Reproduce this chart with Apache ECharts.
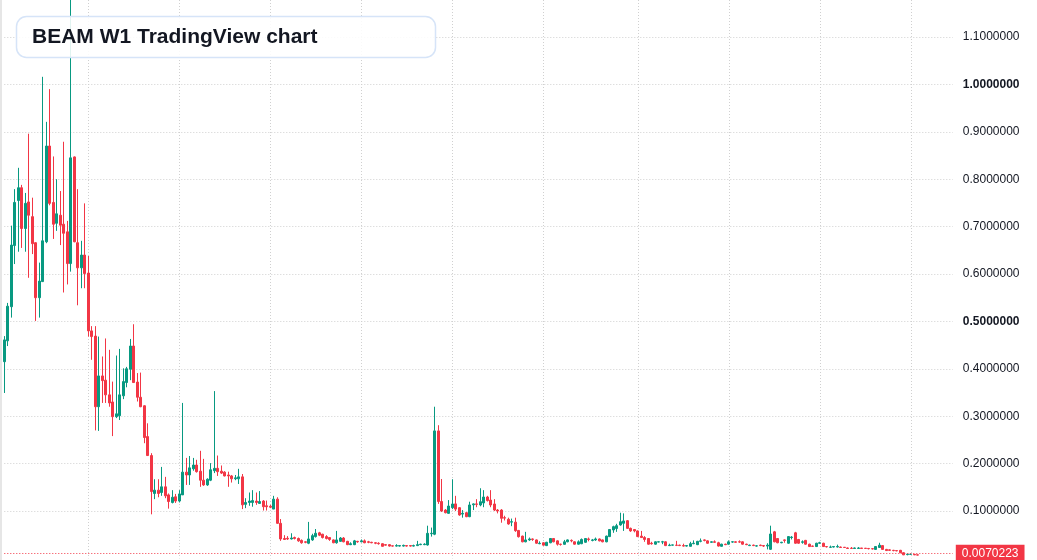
<!DOCTYPE html>
<html>
<head>
<meta charset="utf-8">
<script src="https://cdn.jsdelivr.net/npm/echarts@6/dist/echarts.min.js"></script>
<style>
html,body{margin:0;padding:0;background:#fff;}
#chart{width:1037px;height:560px;}
</style>
</head>
<body>
<div id="chart"></div>
<script>
// ---- data (weekly BEAM candles) ----
const firstWeek = '2019-01-14';
const weekCount = 272; // includes empty future weeks on the right
const categories = [];
(function () {
  const d = new Date(firstWeek + 'T00:00:00Z');
  for (let i = 0; i < weekCount; i++) {
    categories.push(d.toISOString().slice(0, 10));
    d.setUTCDate(d.getUTCDate() + 7);
  }
})();

const openPrices = [
.415,.459,.531,.660,.755,.782,.696,.752,.721,.666,
.550,.584,.668,.870,.751,.707,.724,.705,.689,.622,
.847,.666,.613,.640,.602,.480,.469,.320,.385,.376,
.345,.330,.299,.301,.343,.371,.399,.448,.372,.340,
.322,.257,.217,.137,.144,.139,.151,.134,.118,.130,
.121,.134,.182,.176,.189,.197,.184,.165,.155,.165,
.185,.190,.184,.182,.176,.174,.168,.168,.172,.114,
.118,.118,.121,.116,.121,.111,.110,.104,.125,.074,
.042,.0424,.041,.044,.042,.038,.035,.032,.039,.046,
.054,.051,.046,.044,.039,.033,.036,.043,.036,.029,
.029,.036,.035,.037,.035,.034,.033,.032,.031,.029,
.029,.0265,.026,.026,.026,.027,.027,.026,.027,.029,
.029,.0283,.052,.051,.269,.120,.102,.095,.107,.115,
.107,.0935,.0964,.088,.113,.115,.1127,.117,.1295,.123,
.1148,.102,.102,.0859,.0825,.0765,.0765,.059,.047,.035,
.039,.041,.039,.031,.033,.027,.033,.042,.037,.030,
.0297,.035,.038,.035,.030,.031,.034,.041,.038,.039,
.041,.039,.035,.046,.060,.063,.0705,.074,.0795,.0634,
.061,.058,.047,.044,.042,.032,.030,.0345,.0345,.035,
.027,.028,.028,.028,.027,.026,.0255,.031,.029,.036,
.039,.037,.034,.035,.033,.0255,.030,.030,.0345,.035,
.035,.035,.030,.027,.028,.026,.028,.027,.026,.0192,
.056,.042,.033,.039,.032,.044,.054,.040,.034,.038,
.030,.026,.025,.032,.032,.025,.0235,.024,.024,.024,
.0235,.022,.0215,.021,.021,.022,.0215,.021,.0205,.019,
.023,.027,.019,.018,.017,.0165,.017,.012,.008,.0085,
.0085,.0075
];
const closePrices = [
.461,.532,.661,.751,.782,.696,.749,.724,.664,.550,
.585,.670,.870,.749,.705,.727,.703,.686,.622,.845,
.668,.613,.640,.601,.480,.468,.320,.385,.375,.345,
.328,.299,.305,.345,.373,.400,.448,.371,.340,.320,
.255,.217,.141,.144,.137,.151,.132,.120,.129,.121,
.136,.182,.176,.191,.197,.183,.165,.155,.167,.187,
.190,.183,.180,.174,.174,.168,.170,.172,.113,.118,
.121,.122,.118,.120,.109,.109,.108,.125,.074,.041,
.040,.041,.043,.042,.037,.033,.034,.041,.048,.053,
.049,.044,.042,.040,.033,.039,.043,.035,.029,.031,
.037,.035,.037,.033,.034,.033,.032,.031,.0255,.028,
.026,.026,.027,.027,.0275,.026,.026,.027,.029,.030,
.030,.0529,.053,.269,.120,.100,.0964,.1105,.1148,.104,
.0916,.0951,.088,.1127,.115,.114,.1196,.1295,.122,.1127,
.102,.100,.0846,.085,.0726,.0775,.0585,.0458,.035,.039,
.041,.040,.032,.032,.028,.034,.042,.035,.030,.0295,
.035,.039,.037,.030,.035,.040,.042,.040,.039,.041,
.037,.035,.047,.061,.067,.069,.0774,.079,.0634,.058,
.058,.046,.044,.040,.030,.031,.035,.035,.035,.027,
.028,.0285,.0275,.027,.026,.027,.031,.032,.036,.037,
.038,.032,.035,.034,.026,.030,.029,.035,.035,.034,
.0345,.030,.029,.028,.027,.0265,.027,.026,.028,.0515,
.035,.033,.034,.038,.046,.045,.032,.032,.035,.030,
.025,.0255,.032,.033,.025,.0245,.024,.025,.025,.023,
.023,.021,.021,.022,.022,.021,.021,.0205,.020,.025,
.028,.019,.0165,.017,.0165,.016,.012,.0075,.009,.009,
.0075,.0070223
];
const lowPrices = [
.349,.448,.508,.621,.647,.655,.647,.592,.642,.501,
.508,.583,.665,.745,.674,.691,.661,.561,.578,.605,
.667,.534,.570,.570,.468,.419,.270,.269,.328,.328,
.320,.258,.296,.292,.336,.361,.376,.370,.331,.319,
.243,.216,.093,.125,.129,.132,.127,.105,.116,.117,
.118,.134,.155,.155,.185,.181,.151,.153,.153,.163,
.180,.174,.178,.173,.151,.160,.165,.157,.104,.106,
.111,.109,.113,.115,.101,.101,.106,.104,.073,.037,
.039,.039,.040,.040,.035,.031,.032,.030,.037,.044,
.047,.042,.040,.037,.032,.031,.035,.034,.028,.028,
.028,.033,.034,.032,.032,.032,.030,.029,.025,.027,
.025,.025,.025,.025,.025,.025,.025,.025,.026,.028,
.028,.027,.046,.049,.115,.098,.095,.094,.104,.100,
.090,.0859,.087,.087,.102,.108,.110,.108,.120,.108,
.100,.095,.0753,.080,.071,.068,.056,.044,.034,.034,
.037,.037,.031,.030,.027,.026,.032,.034,.027,.027,
.029,.034,.034,.029,.029,.030,.033,.036,.036,.037,
.036,.034,.034,.045,.054,.056,.069,.058,.062,.056,
.055,.045,.043,.035,.029,.029,.029,.034,.030,.026,
.026,.027,.026,.026,.025,.025,.025,.030,.028,.034,
.036,.031,.033,.033,.025,.025,.028,.029,.033,.033,
.033,.029,.028,.026,.026,.025,.026,.024,.019,.0178,
.034,.032,.032,.033,.031,.040,.031,.031,.031,.029,
.024,.024,.024,.031,.024,.023,.022,.023,.023,.022,
.022,.020,.020,.020,.020,.020,.020,.019,.019,.018,
.022,.018,.016,.016,.015,.015,.011,.007,.0065,.008,
.007,.0065
];
const highPrices = [
.469,.539,.702,.779,.824,.788,.771,.896,.761,.667,
.624,1.016,.921,.990,.848,.800,.775,.879,.712,1.30,
.848,.779,.670,.749,.638,.490,.490,.468,.426,.464,
.440,.373,.428,.442,.401,.404,.463,.494,.391,.392,
.323,.285,.222,.167,.167,.193,.172,.137,.144,.136,
.144,.328,.212,.216,.212,.208,.227,.210,.169,.201,
.353,.217,.196,.184,.183,.176,.176,.189,.178,.127,
.139,.144,.139,.142,.123,.122,.113,.132,.129,.083,
.049,.047,.053,.046,.044,.040,.036,.077,.052,.062,
.056,.052,.049,.045,.040,.058,.045,.045,.037,.034,
.039,.037,.040,.040,.037,.035,.034,.034,.032,.030,
.030,.027,.030,.028,.029,.028,.028,.029,.037,.031,
.032,.069,.065,.320,.281,.1675,.104,.123,.167,.132,
.108,.102,.098,.1196,.116,.125,.148,.144,.132,.144,
.125,.104,.104,.090,.0859,.084,.0859,.060,.048,.056,
.044,.042,.040,.036,.034,.035,.043,.043,.038,.031,
.039,.040,.040,.036,.038,.042,.043,.044,.041,.044,
.042,.040,.048,.062,.069,.073,.0964,.095,.081,.065,
.062,.059,.058,.047,.043,.035,.036,.036,.037,.036,
.031,.029,.037,.029,.031,.028,.035,.038,.037,.042,
.040,.038,.036,.038,.035,.031,.031,.038,.036,.036,
.038,.036,.031,.029,.029,.028,.029,.028,.032,.069,
.058,.043,.035,.040,.047,.047,.056,.041,.038,.039,
.031,.027,.033,.035,.033,.026,.027,.026,.029,.025,
.024,.023,.024,.023,.024,.022,.022,.022,.021,.026,
.033,.028,.020,.019,.018,.017,.018,.013,.010,.010,
.009,.008
];
const lastPrice = 0.0070223;
// weeks where the half-year dotted vertical grid lines fall
const gridWeekIndices = [24, 50, 76, 102, 128, 154, 181, 207, 233, 259];
// price scale
const priceMin = 0, priceInterval = 0.1, priceMax = 1.17806;
const boldTicks = [1.0, 0.5];
const chartTitle = 'BEAM W1 TradingView chart';

// ---- chart ----
const UP = '#089981', DOWN = '#F23645';
const candles = openPrices.map((o, i) => [o, closePrices[i], lowPrices[i], highPrices[i]]);
const gridLine = { color: '#d0d0d0', width: 1, type: [1, 2] };

const chart = echarts.init(document.getElementById('chart'), null, { renderer: 'canvas' });
chart.setOption({
  animation: false,
  backgroundColor: '#ffffff',
  grid: { left: 4.3, right: 84.2, top: 0, bottom: 1.6, containLabel: false },
  xAxis: {
    type: 'category',
    data: categories,
    boundaryGap: false,
    axisLine: { show: false },
    axisTick: { show: false },
    axisLabel: { show: false },
    splitLine: {
      show: true,
      interval: (idx) => gridWeekIndices.indexOf(idx) >= 0,
      lineStyle: gridLine
    }
  },
  yAxis: {
    type: 'value',
    position: 'right',
    min: priceMin,
    max: priceMax,
    interval: priceInterval,
    scale: false,
    axisLine: { show: false },
    axisTick: { show: false },
    splitLine: { show: true, showMinLine: false, showMaxLine: false, lineStyle: gridLine },
    axisLabel: {
      margin: 10,
      color: '#131722',
      fontSize: 12,
      fontFamily: '"Liberation Sans", Arial, sans-serif',
      formatter: (v) => {
        if (v <= 0.0001 || v > 1.15) return '';
        const s = v.toFixed(7);
        const bold = boldTicks.some(b => Math.abs(b - v) < 1e-6);
        return bold ? '{b|' + s + '}' : s;
      },
      rich: {
        b: { fontWeight: 'bold', fontSize: 12, color: '#131722', fontFamily: '"Liberation Sans", Arial, sans-serif' }
      }
    }
  },
  series: [{
    type: 'candlestick',
    data: candles,
    barWidth: 2.3,
    clip: false,
    itemStyle: {
      color: UP, color0: DOWN,
      borderColor: UP, borderColor0: DOWN,
      borderWidth: 1
    },
    markLine: {
      silent: true,
      symbol: ['none', 'none'],
      animation: false,
      lineStyle: { color: DOWN, width: 1, type: [1, 2] },
      label: {
        show: true,
        position: 'end',
        distance: 3,
        formatter: lastPrice.toFixed(7),
        color: '#ffffff',
        backgroundColor: DOWN,
        padding: [3, 6, 3, 6],
        fontSize: 12,
        fontFamily: '"Liberation Sans", Arial, sans-serif'
      },
      data: [{ yAxis: lastPrice }]
    }
  }],
  graphic: [
    {
      type: 'rect', z: 100, silent: true,
      shape: { x: 0, y: 0, width: 2, height: 560 },
      style: { fill: '#e6e6e6' }
    },
    {
      type: 'rect', z: 100, silent: true,
      shape: { x: 16.5, y: 16.5, width: 419, height: 41, r: 10 },
      style: { fill: 'rgba(255,255,255,0.88)', stroke: '#d6e4f8', lineWidth: 1.5 }
    },
    {
      type: 'text', z: 101, silent: true,
      style: {
        x: 32, y: 37,
        text: chartTitle,
        font: 'bold 21px "Liberation Sans", Arial, sans-serif',
        fill: '#131722',
        verticalAlign: 'middle',
        align: 'left'
      }
    }
  ]
});
</script>
</body>
</html>
